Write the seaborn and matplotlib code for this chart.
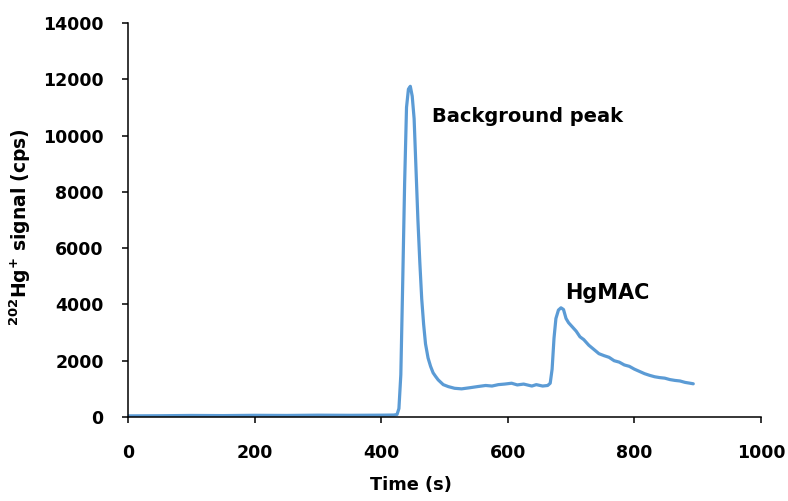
import numpy as np
import pandas as pd
import matplotlib
matplotlib.use("Agg")
import matplotlib.pyplot as plt
import seaborn as sns

time_s = [0, 50, 100, 150, 200, 250, 300, 350, 400, 420, 425, 428, 431, 434, 437, 440, 443, 446,
          449, 452, 455, 458, 461, 464, 467, 470, 474, 478, 482, 486, 490, 498, 506, 516, 527,
          540, 552, 565, 575, 585, 595, 606, 615, 625, 638, 645, 655, 663, 667, 670, 673, 676,
          680, 684, 688, 692, 696, 702, 708, 714, 720, 728, 736, 744, 752, 760, 768, 776, 784,
          792, 800, 808, 816, 824, 832, 840, 848, 856, 864, 872, 880, 888, 893]
signal_cps = [40, 45, 55, 50, 60, 55, 65, 60, 65, 70, 90, 300, 1500, 4800, 8300, 11000, 11650,
              11750, 11400, 10600, 8800, 7000, 5500, 4200, 3300, 2600, 2100, 1800, 1570, 1440,
              1320, 1150, 1080, 1020, 1000, 1040, 1080, 1120, 1100, 1150, 1170, 1200, 1140, 1170,
              1100, 1150, 1100, 1120, 1200, 1700, 2800, 3500, 3800, 3880, 3820, 3500, 3350, 3200,
              3050, 2850, 2750, 2550, 2400, 2250, 2180, 2120, 2000, 1950, 1850, 1800, 1700, 1620,
              1540, 1480, 1430, 1400, 1380, 1330, 1300, 1280, 1230, 1200, 1180]

x_ticks = [0, 200, 400, 600, 800, 1000]
y_ticks = [0, 2000, 4000, 6000, 8000, 10000, 12000, 14000]

sns.set_style("white")
plt.rcParams['font.family'] = ['DejaVu Sans']
plt.rcParams['mathtext.fontset'] = 'dejavusans'
plt.rcParams['text.color'] = 'black'
plt.rcParams['axes.labelcolor'] = 'black'
plt.rcParams['xtick.color'] = 'black'
plt.rcParams['ytick.color'] = 'black'

df = pd.DataFrame({"Time (s)": time_s, "signal": signal_cps})

fig = plt.figure(figsize=(7.88, 5.01), dpi=100)
ax = fig.add_axes([128 / 788, (501 - 417) / 501, 633 / 788, 394 / 501])
sns.lineplot(data=df, x="Time (s)", y="signal", ax=ax, color="#5B9BD5", linewidth=2.3)

ax.set_xlim(0, 1000)
ax.set_ylim(0, 14000)
ax.set_xticks(x_ticks)
ax.set_yticks(y_ticks)
ax.set_xticklabels([str(v) for v in x_ticks], fontsize=12.5, fontweight="bold", color="black")
ax.set_yticklabels([str(v) for v in y_ticks], fontsize=12.5, fontweight="bold", color="black")
for s in ["top", "right"]:
    ax.spines[s].set_visible(False)
for s in ["left", "bottom"]:
    ax.spines[s].set_color("black")
    ax.spines[s].set_linewidth(1.1)
ax.tick_params(axis="y", left=True, direction="out", length=4.5, width=1.1, color="black", pad=13)
ax.tick_params(axis="x", bottom=True, direction="out", length=4.5, width=1.1, color="black", pad=15)

ax.set_xlabel("Time (s)", fontsize=12.8, fontweight="bold", color="black")
ax.xaxis.set_label_coords(0.447, -0.15)
ax.set_ylabel(r"$\mathbf{^{202}Hg^{+}\ signal\ (cps)}$", fontsize=13.5, color="black")
ax.yaxis.set_label_coords(-0.15, 0.482)

ax.text(480, 10474, "Background peak", fontsize=14, fontweight="bold", va="baseline", ha="left", color="black")
ax.text(690, 4204, "HgMAC", fontsize=15, fontweight="bold", va="baseline", ha="left", color="black")

fig.savefig("out.png", dpi=100)
